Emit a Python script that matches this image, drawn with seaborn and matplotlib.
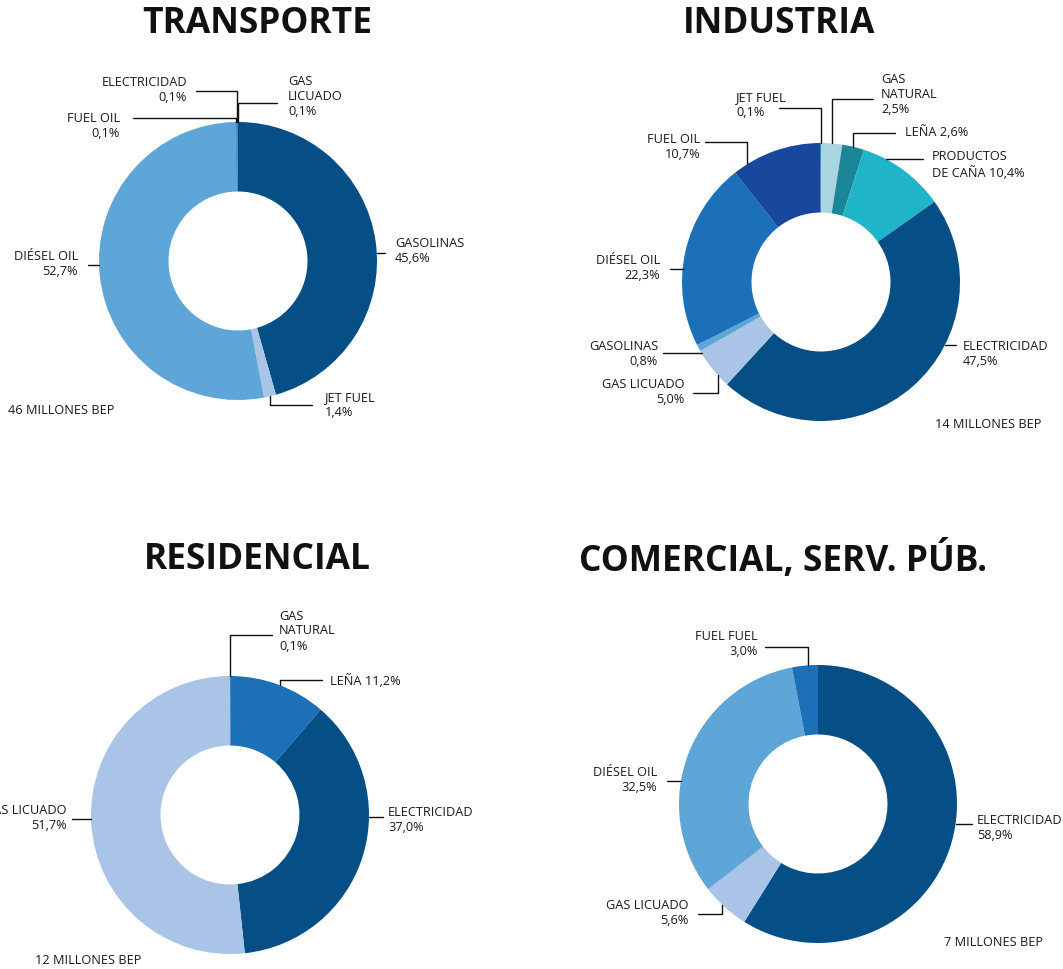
import numpy as np
import matplotlib.pyplot as plt
import seaborn as sns

sns.set_theme(style="white")
plt.rcParams['font.family'] = ['Open Sans', 'DejaVu Sans']

# ---- datos ----
transporte_cat = ["GASOLINAS", "JET FUEL", "DIÉSEL OIL", "FUEL OIL", "ELECTRICIDAD", "GAS\nLICUADO"]
transporte_val = [45.6, 1.4, 52.7, 0.1, 0.1, 0.1]

industria_cat = ["GAS\nNATURAL", "LEÑA", "PRODUCTOS\nDE CAÑA", "ELECTRICIDAD", "GAS LICUADO",
                 "GASOLINAS", "DIÉSEL OIL", "FUEL OIL", "JET FUEL"]
industria_val = [2.5, 2.6, 10.4, 47.5, 5.0, 0.8, 22.3, 10.7, 0.1]

residencial_cat = ["GAS\nNATURAL", "LEÑA", "ELECTRICIDAD", "GAS LICUADO"]
residencial_val = [0.1, 11.2, 37.0, 51.7]

comercial_cat = ["ELECTRICIDAD", "GAS LICUADO", "DIÉSEL OIL", "FUEL FUEL"]
comercial_val = [58.9, 5.6, 32.5, 3.0]

totales = ["46 MILLONES BEP", "14 MILLONES BEP", "12 MILLONES BEP", "7 MILLONES BEP"]
titulos = ["TRANSPORTE", "INDUSTRIA", "RESIDENCIAL", "COMERCIAL, SERV. PÚB."]

# ---- colores ----
OSCURO = "#054f86"
MEDIO = "#1b70b7"
CELESTE = "#5ea6d8"
CLARO = "#a9c4e6"
NAVY = "#17489b"
AGUA = "#a8d5e0"
TEAL = "#1a8799"
TURQ = "#1fb4c8"

colores = [
    [OSCURO, CLARO, CELESTE, MEDIO, MEDIO, MEDIO],
    [AGUA, TEAL, TURQ, OSCURO, CLARO, CELESTE, MEDIO, NAVY, MEDIO],
    [MEDIO, MEDIO, OSCURO, CLARO],
    [OSCURO, CLARO, CELESTE, MEDIO],
]

# ---- layout (pixeles) ----
W, H = 1063, 969
R = 139
centros = [(238, 261), (821, 282), (230, 815), (818, 804)]
pos_titulos = [(257, 24), (779, 24), (257, 560), (783, 560)]
pos_totales = [(8, 411, "left"), (1041, 425, "right"), (35, 961, "left"), (1043, 943, "right")]

# (sep, texto_x, texto_y, ha, guia)
# guia: ('h', y, x_fin) o ('v', x, y_codo, x_fin)
etiquetas = [
    [("\n", 395, 251, "left", ("h", 253, 385)),
     ("\n", 325, 405, "left", ("v", 270, 405, 312)),
     ("\n", 78, 264, "right", ("h", 265, 88)),
     ("\n", 120, 126, "right", ("v", 236, 118, 133)),
     ("\n", 187, 90, "right", ("v", 236.5, 91, 196)),
     ("\n", 288, 96, "left", ("v", 238, 103, 277))],
    [("\n", 881, 94, "left", ("v", 832, 99, 873)),
     (" ", 905, 132, "left", ("v", 853, 133, 895)),
     (" ", 932, 165, "left", ("h", 159, 923)),
     ("\n", 963, 354, "left", ("h", 345, 956)),
     ("\n", 684, 392, "right", ("v", 718, 393, 693)),
     ("\n", 658, 354, "right", ("h", 353, 663)),
     ("\n", 660, 268, "right", ("h", 269, 670)),
     ("\n", 700, 147, "right", ("v", 747, 142, 705)),
     ("\n", 736, 105, "left", ("v", 821, 108, 779))],
    [("\n", 279, 631, "left", ("v", 230, 635, 272)),
     (" ", 330, 681, "left", ("v", 280, 680, 322)),
     ("\n", 388, 820, "left", ("h", 817, 383)),
     ("\n", 67, 818, "right", ("h", 819, 72))],
    [("\n", 977, 828, "left", ("h", 824, 972)),
     ("\n", 689, 913, "right", ("v", 722, 914, 698)),
     ("\n", 657, 780, "right", ("h", 781, 667)),
     ("\n", 758, 644, "right", ("v", 808, 647, 765))],
]

categorias = [transporte_cat, industria_cat, residencial_cat, comercial_cat]
valores = [transporte_val, industria_val, residencial_val, comercial_val]

fig = plt.figure(figsize=(W / 100, H / 100), dpi=100)
ax = fig.add_axes([0, 0, 1, 1])

for k in range(4):
    cx, cy = centros[k]
    # eje y invertido: -90 apunta arriba y el sentido antihorario queda horario
    ax.pie(valores[k], colors=colores[k], center=(cx, cy), radius=R,
           startangle=-90, counterclock=True, frame=True,
           wedgeprops=dict(width=R * 0.5, linewidth=0))

    ax.text(*pos_titulos[k], titulos[k], ha="center", va="center",
            fontsize=25.5, fontweight="bold", color="#111111")
    tx, ty, tha = pos_totales[k]
    ax.text(tx, ty, totales[k], ha=tha, va="center", fontsize=9.2, color="#1a1a1a")

    for cat, val, (sep, x, y, ha, guia) in zip(categorias[k], valores[k], etiquetas[k]):
        txt = f"{cat}{sep}{val:.1f}%".replace(".", ",")
        ax.text(x, y, txt, ha=ha, va="center", fontsize=9.2, color="#1a1a1a",
                linespacing=1.2)
        if guia[0] == "h":
            _, gy, xf = guia
            dx = np.sqrt(R ** 2 - (gy - cy) ** 2)
            x0 = cx + dx if xf > cx else cx - dx
            ax.plot([x0, xf], [gy, gy], color="#111111", lw=1.0)
        else:
            _, gx, gy, xf = guia
            dy = np.sqrt(R ** 2 - (gx - cx) ** 2)
            y0 = cy - dy if gy < cy else cy + dy
            ax.plot([gx, gx, xf], [y0, gy, gy], color="#111111", lw=1.0)

ax.set_xlim(0, W)
ax.set_ylim(H, 0)
ax.set_aspect("equal")
ax.axis("off")

fig.savefig("out.png", dpi=100)
